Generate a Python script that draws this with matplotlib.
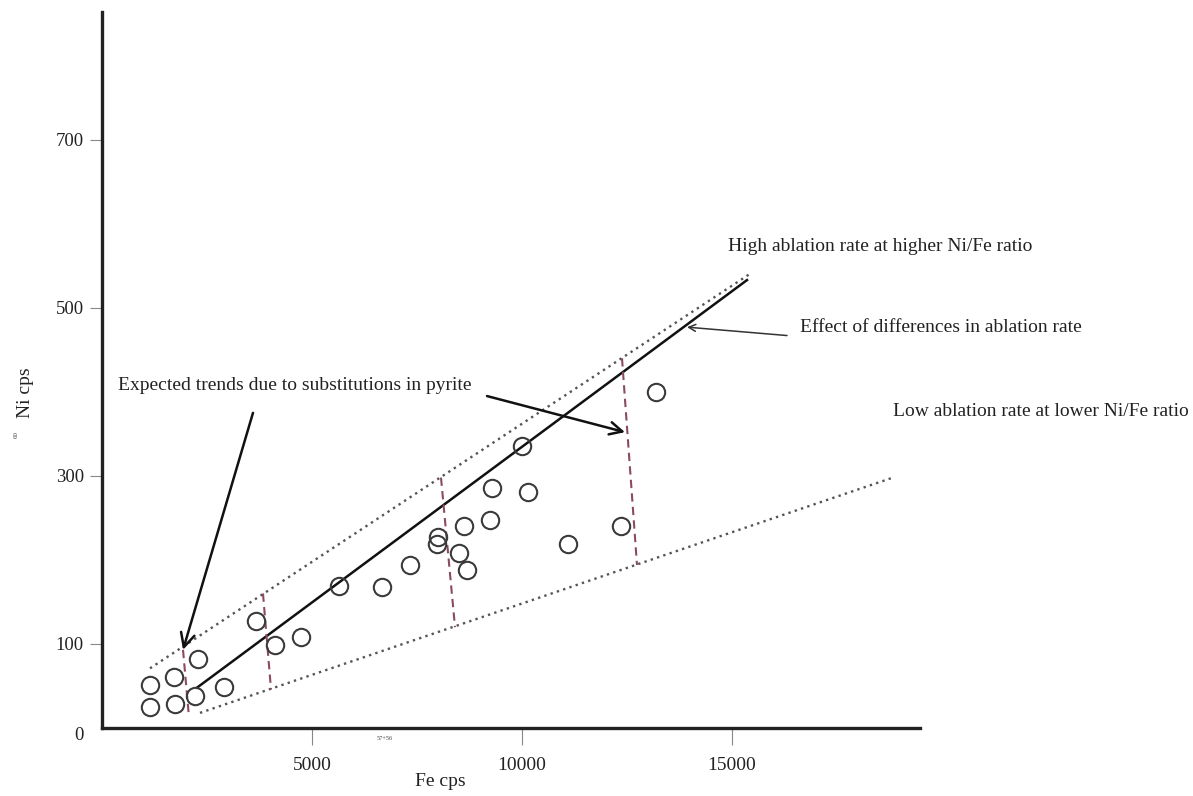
import numpy as np
import matplotlib.pyplot as plt

plt.rcParams['font.family'] = ['Liberation Serif', 'DejaVu Serif']

# measured spots
fe = [1143, 1143, 1714, 1738, 2286, 2214, 2905, 3667, 4119, 4738, 5643, 6667, 7333,
      8000, 7976, 8500, 8619, 8690, 9238, 9286, 10000, 10143, 11095, 12357, 13190]
ni = [51, 25, 61, 29, 82, 38, 49, 127, 99, 108, 169, 168, 194,
      227, 219, 208, 240, 188, 248, 285, 335, 281, 219, 240, 400]

# trend lines (end points)
trend_x = [2262, 15357]
trend_y = [48, 533]
high_x = [1143, 15476]
high_y = [71, 542]
low_x = [2333, 18833]
low_y = [18, 298]

# substitution trends between the two envelopes
sub_x = [[1929, 2071], [3833, 4024], [8071, 8405], [12381, 12738]]
sub_y = [[93, 13], [160, 46], [298, 120], [440, 194]]

xticks = [5000, 10000, 15000]
yticks = [100, 300, 500, 700]

fig = plt.figure(figsize=(11.93, 7.96), dpi=100)
ax = fig.add_axes([102/1193, 68/796, 818/1193, 716/796])
ax.set_xlim(0, 19476)
ax.set_ylim(0, 852)

ax.plot(fe, ni, 'o', ms=12.5, mfc='none', mec='#3a3a3a', mew=1.5, zorder=3)
ax.plot(trend_x, trend_y, color='#111111', lw=1.8)
ax.plot(high_x, high_y, color='#555555', lw=1.7, linestyle=(0, (1, 1.8)))
ax.plot(low_x, low_y, color='#555555', lw=1.7, linestyle=(0, (1, 1.8)))
for sx, sy in zip(sub_x, sub_y):
    ax.plot(sx, sy, color='#8b4b5e', lw=1.5, linestyle=(0, (4, 2.5)))

txt = dict(fontsize=14, color='#222222', va='center', ha='left')
ax.text(381, 407, 'Expected trends due to substitutions in pyrite', **txt)
ax.text(14905, 573, 'High ablation rate at higher Ni/Fe ratio', **txt)
ax.text(16619, 476, 'Effect of differences in ablation rate', **txt)
ax.text(18833, 377, 'Low ablation rate at lower Ni/Fe ratio', clip_on=False, **txt)

ax.annotate('', xy=(1929, 93), xytext=(3595, 375),
            arrowprops=dict(arrowstyle='->,head_length=1.0,head_width=0.5',
                            color='#111111', lw=1.8, shrinkA=0, shrinkB=0))
ax.annotate('', xy=(12452, 352), xytext=(9167, 395),
            arrowprops=dict(arrowstyle='->,head_length=0.9,head_width=0.45',
                            color='#111111', lw=1.8, shrinkA=0, shrinkB=0))
ax.annotate('', xy=(13929, 477), xytext=(16310, 467),
            arrowprops=dict(arrowstyle='->,head_length=0.5,head_width=0.25',
                            color='#333333', lw=1.1, shrinkA=0, shrinkB=0))

for s in ['top', 'right']:
    ax.spines[s].set_visible(False)
for s in ['left', 'bottom']:
    ax.spines[s].set_linewidth(2.4)
    ax.spines[s].set_color('#222222')

ax.set_xticks(xticks)
ax.set_xticklabels([str(v) for v in xticks])
ax.set_yticks(yticks)
ax.set_yticklabels([str(v) for v in yticks])
ax.tick_params(axis='x', direction='out', length=12, width=0.8, color='#888888',
               pad=9, labelsize=14, labelcolor='#222222')
ax.tick_params(axis='y', direction='out', length=9, width=0.8, color='#888888',
               pad=4, labelsize=13.5, labelcolor='#222222')
ax.text(-0.022, -0.01, '0', transform=ax.transAxes, ha='right', va='center',
        fontsize=13.5, color='#222222')

# axis titles with isotope superscripts
fig.text(440/1193, 1 - 782/796, 'Fe cps', ha='center', va='center',
         fontsize=14, color='#222222')
fig.text(385/1193, 1 - 738/796, '57+56', ha='center', va='center',
         fontsize=4.5, color='#444444')
fig.text(25/1193, 1 - 393/796, 'Ni cps', ha='center', va='center',
         rotation=90, fontsize=14, color='#222222')
fig.text(16/1193, 1 - 434/796, '60', ha='center', va='center',
         rotation=90, fontsize=5, color='#444444')

plt.savefig('out.png', dpi=100)
